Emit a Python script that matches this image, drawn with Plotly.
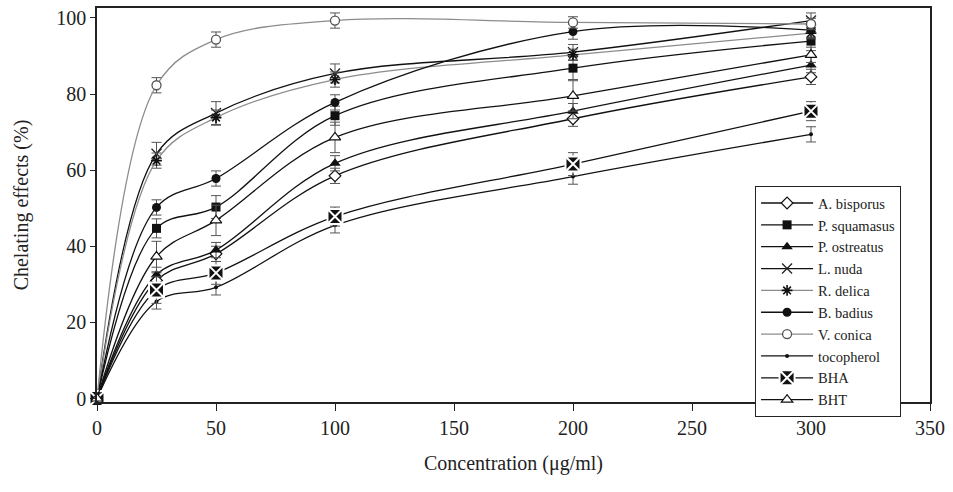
import plotly.graph_objects as go

concentration = [0, 25, 50, 100, 200, 300]

a_bisporus   = [0, 31.0, 38.0, 58.5, 73.5, 84.5]
p_squamasus  = [0, 44.7, 50.3, 74.3, 86.8, 93.9]
p_ostreatus  = [0, 32.5, 39.0, 61.8, 75.5, 87.6]
l_nuda       = [0, 64.3, 75.0, 85.4, 91.0, 99.3]
r_delica     = [0, 62.5, 73.8, 83.8, 90.3, 96.0]
b_badius     = [0, 50.2, 57.8, 77.8, 96.4, 96.8]
v_conica     = [0, 82.3, 94.3, 99.3, 98.8, 98.4]
tocopherol   = [0, 25.5, 29.2, 45.5, 58.3, 69.4]
bha          = [0, 28.5, 33.0, 47.8, 61.6, 75.5]
bht          = [0, 37.3, 46.8, 68.6, 79.5, 90.3]

err_a_bisporus  = [1.5, 2.0, 2.0, 2.0, 2.0, 2.0]
err_p_squamasus = [1.5, 2.5, 3.0, 2.5, 3.0, 2.5]
err_p_ostreatus = [1.5, 2.0, 2.0, 2.0, 2.0, 2.0]
err_l_nuda      = [1.5, 3.0, 3.0, 2.5, 2.0, 2.0]
err_r_delica    = [1.5, 2.0, 2.0, 2.0, 1.5, 1.5]
err_b_badius    = [1.5, 2.0, 2.0, 2.0, 2.0, 2.0]
err_v_conica    = [1.5, 2.0, 2.0, 2.0, 1.5, 1.5]
err_tocopherol  = [1.5, 2.0, 2.0, 2.0, 2.0, 2.0]
err_bha         = [1.5, 3.5, 3.0, 2.5, 3.0, 2.5]
err_bht         = [1.5, 4.0, 4.0, 4.0, 4.0, 2.0]

names = ["A. bisporus", "P. squamasus", "P. ostreatus", "L. nuda", "R. delica",
         "B. badius", "V. conica", "tocopherol", "BHA", "BHT"]

series = [a_bisporus, p_squamasus, p_ostreatus, l_nuda, r_delica,
          b_badius, v_conica, tocopherol, bha, bht]
errors = [err_a_bisporus, err_p_squamasus, err_p_ostreatus, err_l_nuda, err_r_delica,
          err_b_badius, err_v_conica, err_tocopherol, err_bha, err_bht]

styles = [
    dict(line="#111111", marker=dict(symbol="diamond", size=9, color="white", line=dict(color="#111111", width=1.2))),
    dict(line="#111111", marker=dict(symbol="square", size=9, color="#111111")),
    dict(line="#111111", marker=dict(symbol="triangle-up", size=10, color="#111111")),
    dict(line="#111111", marker=dict(symbol="x-thin", size=10, color="#111111", line=dict(color="#222222", width=1.3))),
    dict(line="#8c8c8c", marker=dict(symbol="asterisk", size=9, color="#111111", line=dict(color="#111111", width=1.6))),
    dict(line="#111111", marker=dict(symbol="circle", size=9, color="#111111")),
    dict(line="#8c8c8c", marker=dict(symbol="circle", size=9, color="white", line=dict(color="#555555", width=1.3))),
    dict(line="#111111", marker=dict(symbol="circle", size=4, color="#111111")),
    dict(line="#111111", marker=dict(symbol="square-x", size=15, color="#111111", line=dict(color="white", width=2))),
    dict(line="#111111", marker=dict(symbol="triangle-up", size=10, color="white", line=dict(color="#111111", width=1.2))),
]

fig = go.Figure()
for name, ys, es, st in zip(names, series, errors, styles):
    fig.add_trace(go.Scatter(
        x=concentration, y=ys, name=name,
        mode="lines+markers",
        line=dict(color=st["line"], width=1.3, shape="spline", smoothing=1.0),
        marker=st["marker"],
        error_y=dict(type="data", array=es, visible=True, color="#555555", thickness=1, width=5),
        cliponaxis=False,
    ))

font_family = "Liberation Serif, Times New Roman, serif"
fig.update_layout(
    width=953, height=492,
    margin=dict(l=97, r=23, t=6, b=90),
    paper_bgcolor="white", plot_bgcolor="white",
    font=dict(family=font_family, size=20, color="#222222"),
    showlegend=True,
    legend=dict(
        x=0.79, y=0.548, xanchor="left", yanchor="top",
        bgcolor="white", bordercolor="#222222", borderwidth=1,
        font=dict(family=font_family, size=14.5, color="#222222"),
        tracegroupgap=0, itemwidth=52,
    ),
    xaxis=dict(
        range=[0, 350], tickvals=[0, 50, 100, 150, 200, 250, 300, 350],
        showgrid=False, zeroline=False, showline=True, linecolor="#222222", linewidth=1.5,
        mirror=True, ticks="outside", ticklen=7, tickwidth=1.2, tickcolor="#222222",
        title=dict(text="Concentration (μg/ml)", font=dict(size=20), standoff=18),
        tickfont=dict(size=20),
    ),
    yaxis=dict(
        range=[-0.92, 102.6], tickvals=[0, 20, 40, 60, 80, 100],
        showgrid=False, zeroline=False, showline=True, linecolor="#222222", linewidth=1.5,
        mirror=True, ticks="outside", ticklen=5, tickwidth=1.2, tickcolor="#222222",
        title=dict(text="Chelating effects (%)", font=dict(size=20), standoff=22),
        tickfont=dict(size=20),
    ),
)

fig.write_html("out.html", config={"displayModeBar": False},
               post_script="document.body.style.margin='0';")
